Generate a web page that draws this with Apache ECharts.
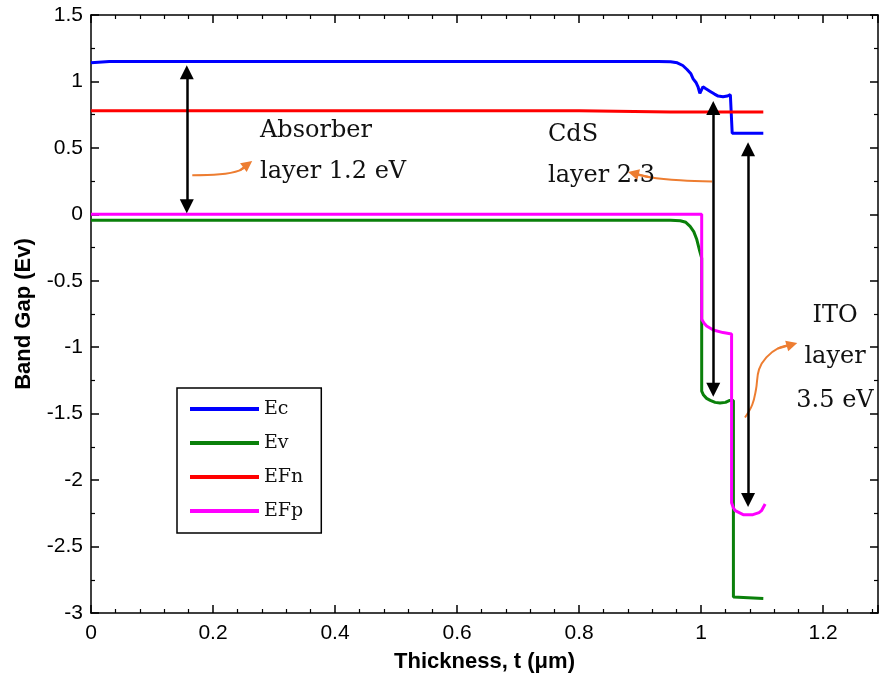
<!DOCTYPE html>
<html>
<head>
<meta charset="UTF-8">
<title>Band Gap</title>
<script src="https://cdn.jsdelivr.net/npm/echarts@6/dist/echarts.min.js"></script>
<style>
html, body { margin: 0; padding: 0; background: #fff; }
#main { width: 879px; height: 677px; }
</style>
</head>
<body>
<div id="main"></div>
<script>
// conduction band Ec
var ecX = [0, 0.03, 0.5, 0.93, 0.95, 0.961, 0.97, 0.977, 0.983, 0.987, 0.992, 0.995, 0.998, 1.003, 1.008, 1.015, 1.022, 1.028, 1.036, 1.043, 1.048, 1.051, 1.051, 1.102];
var ecY = [1.14, 1.15, 1.15, 1.15, 1.148, 1.14, 1.12, 1.09, 1.06, 1.02, 0.99, 0.96, 0.91, 0.96, 0.945, 0.925, 0.905, 0.89, 0.885, 0.89, 0.90, 0.91, 0.61, 0.61];
// valence band Ev
var evX = [0, 0.5, 0.95, 0.966, 0.975, 0.982, 0.988, 0.993, 0.998, 1.001, 1.001, 1.004, 1.009, 1.015, 1.023, 1.031, 1.04, 1.047, 1.053, 1.053, 1.102];
var evY = [-0.045, -0.045, -0.045, -0.048, -0.06, -0.09, -0.13, -0.19, -0.28, -0.33, -1.33, -1.36, -1.385, -1.40, -1.415, -1.42, -1.415, -1.40, -1.40, -2.88, -2.89];
// quasi fermi level EFn
var efnX = [0, 0.8, 0.95, 1.102];
var efnY = [0.78, 0.78, 0.77, 0.77];
// quasi fermi level EFp
var efpX = [0, 1.001, 1.001, 1.005, 1.009, 1.02, 1.036, 1.05, 1.05, 1.053, 1.056, 1.069, 1.085, 1.095, 1.099, 1.105];
var efpY = [0, 0, -0.79, -0.82, -0.84, -0.87, -0.89, -0.90, -2.17, -2.21, -2.23, -2.26, -2.26, -2.245, -2.23, -2.18];

// black double arrows (band gap of each layer)
var gapX = [0.157, 1.02, 1.077];
var gapTop = [1.07, 0.80, 0.49];
var gapBottom = [0.06, -1.32, -2.15];

// orange pointers, last point = arrow head
var absPointer = [[0.166, 0.294], [0.211, 0.301], [0.244, 0.331], [0.257, 0.376]];
var cdsPointer = [[1.018, 0.248], [0.966, 0.256], [0.916, 0.279], [0.889, 0.309]];
var itoPointer = [[1.072, -1.529], [1.084, -1.431], [1.090, -1.318], [1.095, -1.167], [1.107, -1.077], [1.126, -1.009], [1.149, -0.979]];

function pairs(xs, ys) {
	var out = [];
	for (var i = 0; i < xs.length; i++) out.push([xs[i], ys[i]]);
	return out;
}

var myChart = echarts.init(document.getElementById('main'));

function curve(name, color, xs, ys) {
	return {
		name: name,
		type: 'line',
		data: pairs(xs, ys),
		symbol: 'none',
		color: color,
		lineStyle: { color: color, width: 3 },
		z: 3
	};
}

function pointer(pts) {
	var n = pts.length;
	return {
		type: 'line',
		data: pts,
		symbol: 'none',
		smooth: 0.4,
		silent: true,
		lineStyle: { color: '#ed7d31', width: 2 },
		markLine: {
			silent: true,
			animation: false,
			symbol: ['none', 'triangle'],
			symbolSize: 11,
			label: { show: false },
			lineStyle: { color: '#ed7d31', width: 2, type: 'solid' },
			data: [[{ coord: pts[n - 2] }, { coord: pts[n - 1] }]]
		},
		z: 4
	};
}

var gapLines = [];
for (var i = 0; i < gapX.length; i++) {
	gapLines.push([{ coord: [gapX[i], gapTop[i]] }, { coord: [gapX[i], gapBottom[i]] }]);
}

var serif = 'DejaVu Serif';
var sans = 'Liberation Sans';

function note(text, x, y, align) {
	return {
		type: 'text', x: x, y: y, z: 10,
		style: { text: text, font: '24px "' + serif + '"', fill: '#111', textAlign: align || 'left', textVerticalAlign: 'middle' }
	};
}

var tickLabel = { color: '#000', fontFamily: sans, fontSize: 21 };

// plain thick bar as legend icon (tiny corner dots keep the box size)
var barIcon = 'path://M0,0h0.01v0.01h-0.01z M0,8h69v4h-69z M68.99,19.99h0.01v0.01h-0.01z';

var option = {
	animation: false,
	backgroundColor: '#fff',
	grid: { left: 91, right: 1, top: 15, bottom: 64, outerBoundsMode: 'none' },
	legend: {
		data: ['Ec', 'Ev', 'EFn', 'EFp'],
		icon: barIcon,
		orient: 'vertical',
		left: 177,
		top: 388,
		itemWidth: 69,
		itemHeight: 20,
		itemGap: 14,
		padding: [11, 18, 12, 13],
		borderColor: '#000',
		borderWidth: 1.5,
		borderRadius: 0,
		selectedMode: false,
		textStyle: { fontFamily: serif, fontSize: 19, color: '#111', lineHeight: 20 }
	},
	xAxis: [{
		type: 'value',
		min: 0, max: 1.29, interval: 0.2,
		name: 'Thickness, t (\u03bcm)',
		nameLocation: 'middle',
		nameGap: 38,
		nameTextStyle: { color: '#000', fontFamily: sans, fontSize: 22, fontWeight: 'bold' },
		axisLine: { onZero: false, lineStyle: { color: '#000', width: 1.5 } },
		axisTick: { inside: true, length: 8, lineStyle: { color: '#000', width: 1.5 } },
		minorTick: { show: true, splitNumber: 5, length: 4, lineStyle: { color: '#000', width: 1.2 } },
		axisLabel: Object.assign({ margin: 10, showMaxLabel: false }, tickLabel),
		splitLine: { show: false }
	}, {
		type: 'value', position: 'top',
		min: 0, max: 1.29, interval: 0.2,
		axisLine: { onZero: false, lineStyle: { color: '#000', width: 1.5 } },
		axisTick: { inside: true, length: 8, lineStyle: { color: '#000', width: 1.5 } },
		minorTick: { show: true, splitNumber: 5, length: 4, lineStyle: { color: '#000', width: 1.2 } },
		axisLabel: { show: false },
		splitLine: { show: false }
	}],
	yAxis: [{
		type: 'value',
		min: -3, max: 1.5, interval: 0.5,
		name: 'Band Gap (Ev)',
		nameLocation: 'middle',
		nameGap: 56,
		nameTextStyle: { color: '#000', fontFamily: sans, fontSize: 22, fontWeight: 'bold' },
		axisLine: { show: true, onZero: false, lineStyle: { color: '#000', width: 1.5 } },
		axisTick: { show: true, inside: true, length: 8, lineStyle: { color: '#000', width: 1.5 } },
		minorTick: { show: true, splitNumber: 2, length: 4, lineStyle: { color: '#000', width: 1.2 } },
		axisLabel: Object.assign({ margin: 8 }, tickLabel),
		splitLine: { show: false }
	}, {
		type: 'value', position: 'right',
		min: -3, max: 1.5, interval: 0.5,
		axisLine: { show: true, onZero: false, lineStyle: { color: '#000', width: 1.5 } },
		axisTick: { show: true, inside: true, length: 8, lineStyle: { color: '#000', width: 1.5 } },
		minorTick: { show: true, splitNumber: 2, length: 4, lineStyle: { color: '#000', width: 1.2 } },
		axisLabel: { show: false },
		splitLine: { show: false }
	}],
	series: [
		curve('Ec', '#0000ff', ecX, ecY),
		curve('Ev', '#0a800a', evX, evY),
		curve('EFn', '#ff0000', efnX, efnY),
		curve('EFp', '#ff00ff', efpX, efpY),
		{
			type: 'line',
			data: [],
			silent: true,
			markLine: {
				silent: true,
				animation: false,
				symbol: ['triangle', 'triangle'],
				symbolSize: 14,
				label: { show: false },
				lineStyle: { color: '#000', width: 2.5, type: 'solid' },
				data: gapLines
			},
			z: 5
		},
		pointer(absPointer),
		pointer(cdsPointer),
		pointer(itoPointer)
	],
	graphic: [
		note('Absorber', 260, 131),
		note('layer 1.2 eV', 260, 172),
		note('CdS', 548, 135),
		note('layer 2.3', 548, 176),
		note('ITO', 835, 316, 'center'),
		note('layer', 835, 357, 'center'),
		note('3.5 eV', 835, 401, 'center')
	]
};

myChart.setOption(option);
</script>
</body>
</html>
